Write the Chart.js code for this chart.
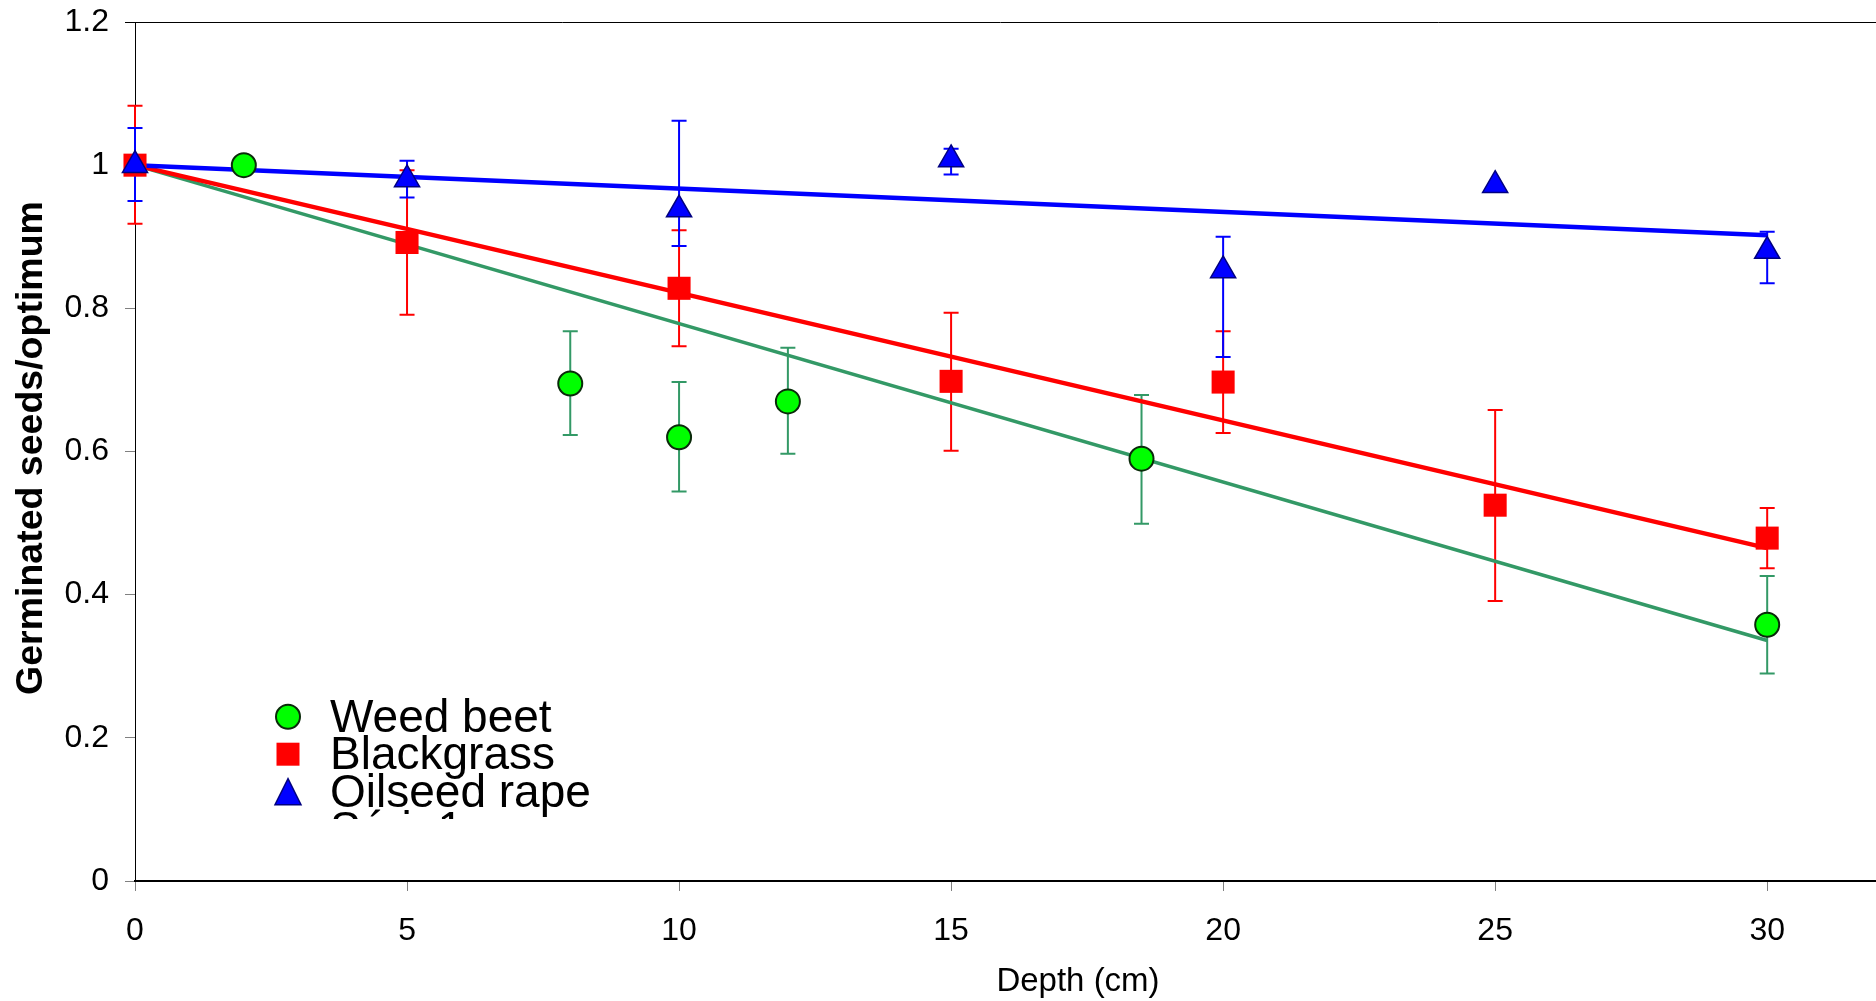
<!DOCTYPE html>
<html>
<head>
<meta charset="utf-8">
<script src="https://cdn.jsdelivr.net/npm/chart.js@4.4.1/dist/chart.umd.min.js"></script>
<style>
	body { margin: 0; background: #fff; }
	#wrap { width: 1876px; height: 1001px; }
</style>
</head>
<body>
<div id="wrap"><canvas id="chartDepth" width="1876" height="1001"></canvas></div>
<script>
// values
const seriesNames = ['Weed beet', 'Blackgrass', 'Oilseed rape', 'Série1'];

const depthWeed = [2, 8, 10, 12, 18.5, 30];
const weedBeet = [1.0, 0.695, 0.62, 0.67, 0.59, 0.358];
const weedErrPlus = [0, 0.073, 0.077, 0.075, 0.089, 0.068];
const weedErrMinus = [0, 0.072, 0.076, 0.073, 0.091, 0.068];

const depthBlack = [0, 5, 10, 15, 20, 25, 30];
const blackgrass = [1.0, 0.892, 0.828, 0.698, 0.697, 0.525, 0.479];
const blackErrPlus = [0.083, 0.101, 0.081, 0.096, 0.071, 0.133, 0.042];
const blackErrMinus = [0.082, 0.101, 0.081, 0.097, 0.071, 0.134, 0.042];

const depthRape = [0, 5, 10, 15, 20, 25, 30];
const oilseedRape = [1.0, 0.98, 0.938, 1.008, 0.853, 0.972, 0.88];
const rapeErrPlus = [0.052, 0.026, 0.124, 0.015, 0.047, 0, 0.027];
const rapeErrMinus = [0.05, 0.025, 0.051, 0.021, 0.121, 0, 0.045];

// fitted lines (end points)
const trendDepth = [0, 30];
const weedTrend = [1.0, 0.336];
const blackTrend = [1.0, 0.465];
const rapeTrend = [1.0, 0.902];

const yTicks = [0, 0.2, 0.4, 0.6, 0.8, 1, 1.2];
const xTicks = [0, 5, 10, 15, 20, 25, 30];

const FONT = '"Liberation Sans", Arial, sans-serif';
Chart.defaults.font.family = FONT;
Chart.defaults.color = '#000';

const toPoints = (xs, ys) => xs.map((x, i) => ({ x, y: ys[i] }));

const errorBars = [
	{ xs: depthWeed, ys: weedBeet, plus: weedErrPlus, minus: weedErrMinus, color: '#339966' },
	{ xs: depthBlack, ys: blackgrass, plus: blackErrPlus, minus: blackErrMinus, color: '#ff0000' },
	{ xs: depthRape, ys: oilseedRape, plus: rapeErrPlus, minus: rapeErrMinus, color: '#0000ff' },
];

const errorBarPlugin = {
	id: 'errorBars',
	beforeDatasetsDraw(chart) {
		const ctx = chart.ctx;
		const xs = chart.scales.x;
		const ys = chart.scales.y;
		ctx.save();
		ctx.lineWidth = 2;
		errorBars.forEach((s) => {
			ctx.strokeStyle = s.color;
			s.xs.forEach((x, i) => {
				if (!s.plus[i] && !s.minus[i]) return;
				const px = xs.getPixelForValue(x);
				const top = ys.getPixelForValue(s.ys[i] + s.plus[i]);
				const bot = ys.getPixelForValue(s.ys[i] - s.minus[i]);
				ctx.beginPath();
				ctx.moveTo(px, top);
				ctx.lineTo(px, bot);
				if (s.plus[i]) {
					ctx.moveTo(px - 7.5, top);
					ctx.lineTo(px + 7.5, top);
				}
				if (s.minus[i]) {
					ctx.moveTo(px - 7.5, bot);
					ctx.lineTo(px + 7.5, bot);
				}
				ctx.stroke();
			});
		});
		ctx.restore();
	},
};

const drawMarker = (ctx, kind, x, y) => {
	ctx.beginPath();
	if (kind === 'circle') {
		ctx.arc(x, y, 12, 0, Math.PI * 2);
		ctx.fillStyle = '#00ff00';
		ctx.strokeStyle = '#0a2a0a';
		ctx.lineWidth = 2;
		ctx.fill();
		ctx.stroke();
	} else if (kind === 'rect') {
		ctx.rect(x - 11.5, y - 11.5, 23, 23);
		ctx.fillStyle = '#ff0000';
		ctx.fill();
	} else {
		ctx.moveTo(x, y - 13);
		ctx.lineTo(x + 13, y + 13);
		ctx.lineTo(x - 13, y + 13);
		ctx.closePath();
		ctx.fillStyle = '#0000ff';
		ctx.strokeStyle = '#000080';
		ctx.lineWidth = 1.5;
		ctx.fill();
		ctx.stroke();
	}
};

const frameAndLegendPlugin = {
	id: 'frameAndLegend',
	afterDraw(chart) {
		const ctx = chart.ctx;
		const area = chart.chartArea;
		ctx.save();
		// top border of the plot
		ctx.strokeStyle = '#000';
		ctx.lineWidth = 1;
		ctx.beginPath();
		ctx.moveTo(area.left - 10, area.top + 0.5);
		ctx.lineTo(chart.width, area.top + 0.5);
		ctx.stroke();

		// axis titles
		ctx.fillStyle = '#000';
		ctx.font = '33px ' + FONT;
		ctx.textAlign = 'center';
		ctx.textBaseline = 'alphabetic';
		ctx.fillText('Depth (cm)', 1078, 991);

		ctx.save();
		ctx.translate(32, 448);
		ctx.rotate(-Math.PI / 2);
		ctx.font = 'bold 37.5px ' + FONT;
		ctx.textBaseline = 'middle';
		ctx.fillText('Germinated seeds/optimum', 0, 0);
		ctx.restore();

		// legend, cut off at the bottom like the original
		ctx.beginPath();
		ctx.rect(0, 0, chart.width, 819);
		ctx.clip();
		const kinds = ['circle', 'rect', 'triangle'];
		ctx.font = '46px ' + FONT;
		ctx.textAlign = 'left';
		seriesNames.forEach((name, i) => {
			const base = 731.7 + i * 37.5;
			if (kinds[i]) drawMarker(ctx, kinds[i], 288, base - 15);
			ctx.fillStyle = '#000';
			ctx.fillText(name, 330, base);
		});
		ctx.restore();
	},
};

const lineSet = (label, ys, color, width, order) => ({
	type: 'line',
	label,
	data: toPoints(trendDepth, ys),
	borderColor: color,
	borderWidth: width,
	pointRadius: 0,
	fill: false,
	order,
	clip: false,
});

const data = {
	datasets: [
		lineSet('Série1', weedTrend, '#339966', 3.5, 5),
		lineSet('Série1 ', blackTrend, '#ff0000', 4.5, 4),
		lineSet('Série1  ', rapeTrend, '#0000ff', 4.5, 3),
		{
			label: seriesNames[0],
			data: toPoints(depthWeed, weedBeet),
			pointStyle: 'circle',
			pointRadius: 12,
			backgroundColor: '#00ff00',
			borderColor: '#0a2a0a',
			borderWidth: 2,
			order: 2,
			clip: false,
		},
		{
			label: seriesNames[1],
			data: toPoints(depthBlack, blackgrass),
			pointStyle: 'rect',
			pointRadius: 16.3,
			backgroundColor: '#ff0000',
			borderColor: '#ff0000',
			borderWidth: 0,
			order: 1,
			clip: false,
		},
		{
			label: seriesNames[2],
			data: toPoints(depthRape, oilseedRape),
			pointStyle: 'triangle',
			pointRadius: 14.5,
			backgroundColor: '#0000ff',
			borderColor: '#000080',
			borderWidth: 1.5,
			order: 0,
			clip: false,
		},
	],
};

const config = {
	type: 'scatter',
	data: data,
	plugins: [errorBarPlugin, frameAndLegendPlugin],
	options: {
		responsive: false,
		animation: false,
		layout: { autoPadding: false, padding: { top: 22, right: 0, left: 0, bottom: 0 } },
		plugins: {
			legend: { display: false },
			tooltip: { enabled: false },
		},
		scales: {
			x: {
				type: 'linear',
				min: 0,
				max: 32,
				afterBuildTicks: (scale) => {
					scale.ticks = xTicks.map((v) => ({ value: v }));
				},
				afterFit: (scale) => {
					scale.height = 120;
					scale.paddingLeft = 0;
					scale.paddingRight = 0;
				},
				ticks: { font: { size: 32 }, padding: 21, color: '#000', maxRotation: 0, callback: (v) => String(v) },
				grid: { drawOnChartArea: false, drawTicks: true, tickLength: 10, color: '#808080' },
				border: { display: true, color: '#000', width: 2 },
			},
			y: {
				type: 'linear',
				min: 0,
				max: 1.2,
				afterBuildTicks: (scale) => {
					scale.ticks = yTicks.map((v) => ({ value: v }));
				},
				afterFit: (scale) => {
					scale.width = 135;
					scale.paddingTop = 0;
					scale.paddingBottom = 0;
				},
				ticks: { font: { size: 32 }, padding: 16, color: '#000', callback: (v) => String(v) },
				grid: { drawOnChartArea: false, drawTicks: true, tickLength: 10, color: '#808080' },
				border: { display: true, color: '#000', width: 1 },
			},
		},
	},
};

const ctx = document.getElementById('chartDepth').getContext('2d');
const depthChart = new Chart(ctx, config);
</script>
</body>
</html>
